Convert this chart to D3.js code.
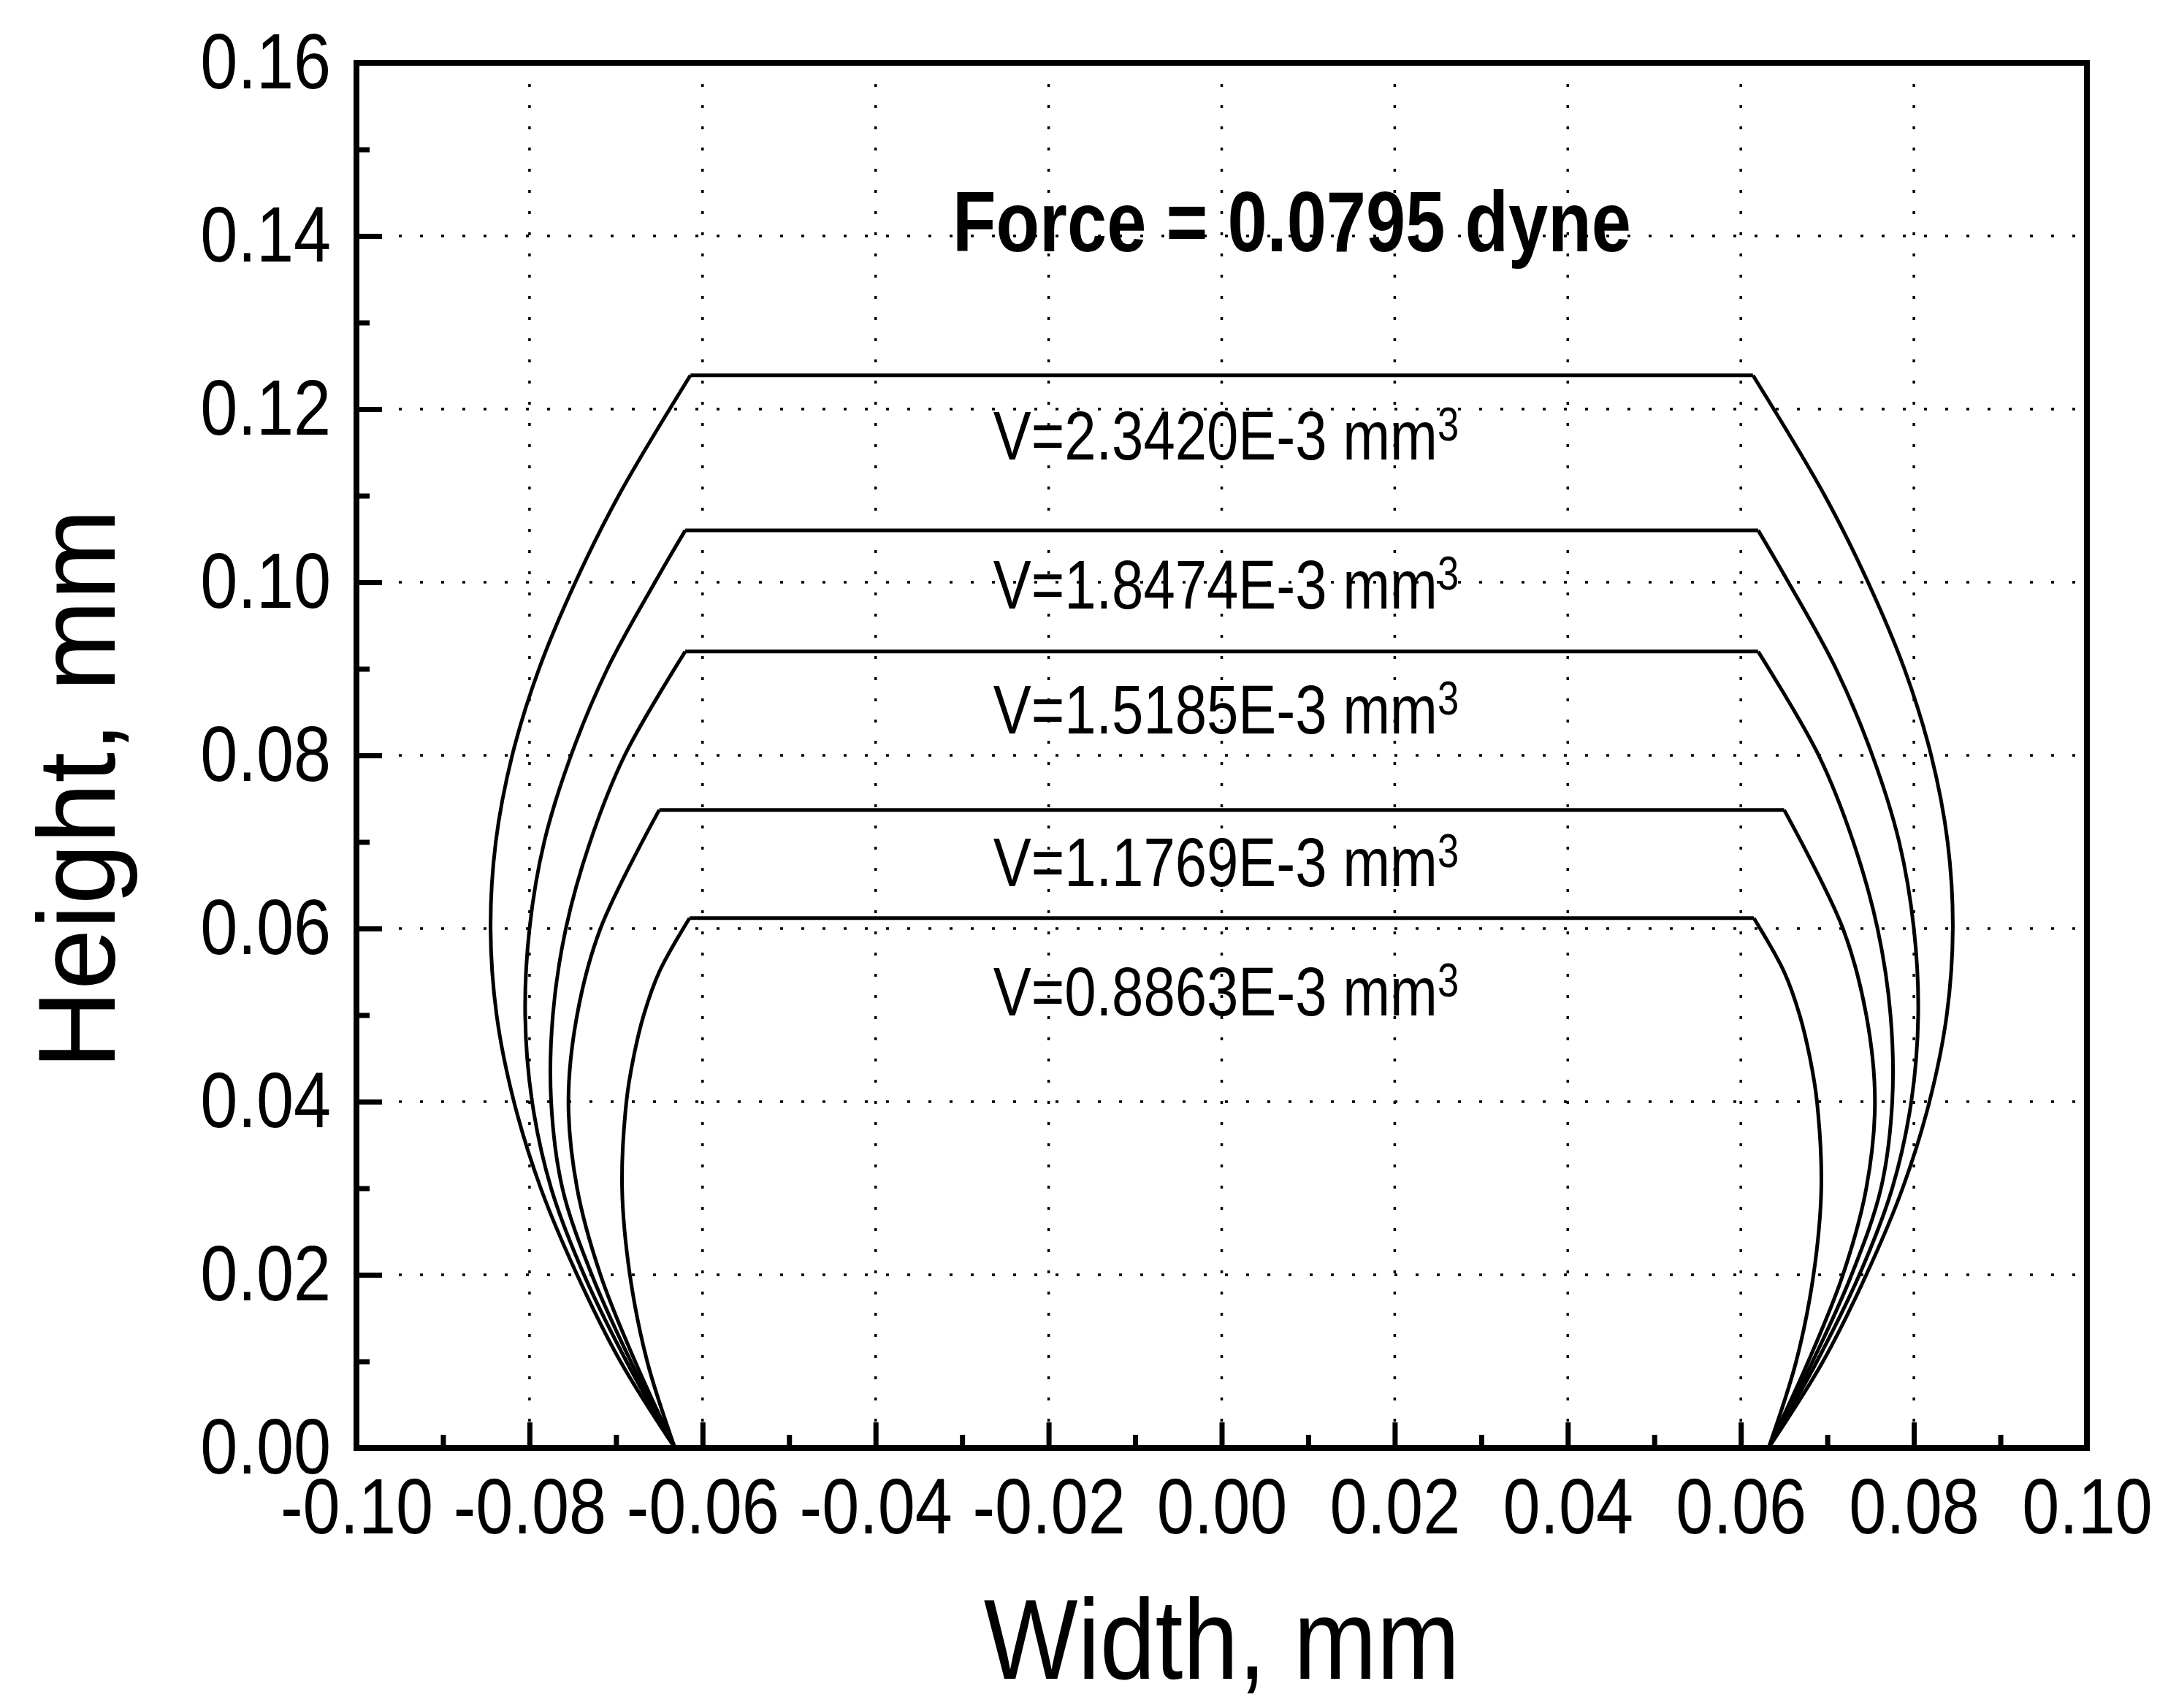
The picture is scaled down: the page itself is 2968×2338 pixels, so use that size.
<!DOCTYPE html>
<html>
<head>
<meta charset="utf-8">
<script src="https://cdn.jsdelivr.net/npm/d3@7"></script>
<style>
  body { margin: 0; background: #fff; }
  svg { display: block; }
  text { font-family: "Liberation Sans", Arial, sans-serif; fill: #000; }
</style>
</head>
<body>
<div id="chart"></div>
<script>
// ticks
const xTicks = [-0.10, -0.08, -0.06, -0.04, -0.02, 0.00, 0.02, 0.04, 0.06, 0.08, 0.10];
const xTickLabels = ["-0.10", "-0.08", "-0.06", "-0.04", "-0.02", "0.00", "0.02", "0.04", "0.06", "0.08", "0.10"];
const xMinorTicks = [-0.09, -0.07, -0.05, -0.03, -0.01, 0.01, 0.03, 0.05, 0.07, 0.09];
const yTicks = [0.00, 0.02, 0.04, 0.06, 0.08, 0.10, 0.12, 0.14, 0.16];
const yTickLabels = ["0.00", "0.02", "0.04", "0.06", "0.08", "0.10", "0.12", "0.14", "0.16"];
const yMinorTicks = [0.01, 0.03, 0.05, 0.07, 0.09, 0.11, 0.13, 0.15];

// volume labels, drawn centred under each top
const volumeLabels = ["V=2.3420E-3 mm", "V=1.8474E-3 mm", "V=1.5185E-3 mm", "V=1.1769E-3 mm", "V=0.8863E-3 mm"];
const labelHeights = [0.1142, 0.0970, 0.0825, 0.0649, 0.0500];

// meniscus profiles: [height, half width], read from the left/right sides
const profileA = [[0, 0.0632], [0.01, 0.0695], [0.02, 0.0745], [0.03, 0.0787], [0.04, 0.0818], [0.05, 0.0838],
  [0.06, 0.0845], [0.07, 0.0839], [0.08, 0.0820], [0.09, 0.0789], [0.10, 0.0747], [0.11, 0.0697], [0.1239, 0.0614]];
const profileB = [[0, 0.0632], [0.01, 0.0688], [0.02, 0.0737], [0.03, 0.0775], [0.04, 0.0797], [0.05, 0.0805],
  [0.06, 0.0800], [0.07, 0.0783], [0.08, 0.0752], [0.09, 0.0710], [0.10, 0.0655], [0.106, 0.0620]];
const profileC = [[0, 0.0632], [0.01, 0.0683], [0.02, 0.0728], [0.03, 0.0762], [0.04, 0.0775], [0.05, 0.0773],
  [0.06, 0.0758], [0.07, 0.0730], [0.08, 0.0690], [0.092, 0.0620]];
const profileD = [[0, 0.0632], [0.01, 0.0678], [0.02, 0.0718], [0.03, 0.0745], [0.04, 0.0755], [0.05, 0.0745],
  [0.06, 0.0718], [0.0737, 0.0650]];
const profileE = [[0, 0.0632], [0.01, 0.0664], [0.02, 0.0684], [0.03, 0.0693], [0.04, 0.0688], [0.045, 0.0680],
  [0.05, 0.0668], [0.055, 0.0650], [0.0612, 0.0615]];
const profiles = [profileA, profileB, profileC, profileD, profileE];

const width = 2968, height = 2338;
const margin = { left: 488, right: 2968 - 2857, top: 86, bottom: 2338 - 1982 };
const plotW = width - margin.left - margin.right;
const plotH = height - margin.top - margin.bottom;
const squeeze = 0.85;

const svg = d3.select('#chart').append('svg')
  .attr('width', width)
  .attr('height', height)
  .style('background', '#FFFFFF');

const x = d3.scaleLinear().domain([-0.10, 0.10]).range([0, plotW]);
const y = d3.scaleLinear().domain([0, 0.16]).range([plotH, 0]);

const g = svg.append('g').attr('transform', `translate(${margin.left}, ${margin.top})`);

// dotted grid
g.append('g').selectAll('line')
  .data(xTicks.slice(1, -1)).enter().append('line')
  .attr('x1', d => x(d)).attr('x2', d => x(d))
  .attr('y1', 0).attr('y2', plotH)
  .attr('stroke', '#000').attr('stroke-width', 3.5).attr('stroke-dasharray', '4 25');
g.append('g').selectAll('line')
  .data(yTicks.slice(1, -1)).enter().append('line')
  .attr('y1', d => y(d)).attr('y2', d => y(d))
  .attr('x1', 0).attr('x2', plotW)
  .attr('stroke', '#000').attr('stroke-width', 3.5).attr('stroke-dasharray', '4 25');

// axes
const xAxis = g.append('g')
  .attr('transform', `translate(0, ${plotH})`)
  .call(d3.axisBottom(x).tickValues(xTicks).tickFormat((d, i) => xTickLabels[i])
    .tickSizeInner(-35).tickSizeOuter(0).tickPadding(40));
g.append('g')
  .attr('transform', `translate(0, ${plotH})`)
  .call(d3.axisBottom(x).tickValues(xMinorTicks).tickFormat('').tickSizeInner(-18).tickSizeOuter(0));

const yAxis = g.append('g')
  .call(d3.axisLeft(y).tickValues(yTicks).tickFormat((d, i) => yTickLabels[i])
    .tickSizeInner(-35).tickSizeOuter(0).tickPadding(35));
g.append('g')
  .call(d3.axisLeft(y).tickValues(yMinorTicks).tickFormat('').tickSizeInner(-18).tickSizeOuter(0));

g.selectAll('.domain').remove();
g.selectAll('.tick line').attr('stroke', '#000').attr('stroke-width', 7);

xAxis.selectAll('text')
  .attr('font-size', 108)
  .attr('transform', `scale(${squeeze},1)`);
yAxis.selectAll('text')
  .attr('font-size', 108)
  .attr('x', -35 / squeeze)
  .attr('transform', `scale(${squeeze},1)`);

// frame
g.append('rect')
  .attr('x', 0).attr('y', 0)
  .attr('width', plotW).attr('height', plotH)
  .attr('fill', 'none').attr('stroke', '#000').attr('stroke-width', 8);

// curves
const side = d3.line().curve(d3.curveCatmullRom.alpha(0.5));
profiles.forEach(p => {
  const top = p[p.length - 1];
  g.append('path')
    .attr('d', side(p.map(([h, w]) => [x(-w), y(h)])))
    .attr('fill', 'none').attr('stroke', '#000').attr('stroke-width', 5);
  g.append('path')
    .attr('d', side(p.map(([h, w]) => [x(w), y(h)])))
    .attr('fill', 'none').attr('stroke', '#000').attr('stroke-width', 5);
  g.append('line')
    .attr('x1', x(-top[1])).attr('x2', x(top[1]))
    .attr('y1', y(top[0])).attr('y2', y(top[0]))
    .attr('stroke', '#000').attr('stroke-width', 5);
});

// volume labels
volumeLabels.forEach((label, i) => {
  const t = g.append('text')
    .attr('transform', `translate(${x(0.0005)}, ${y(labelHeights[i])}) scale(0.82,1)`)
    .attr('text-anchor', 'middle')
    .attr('font-size', 95);
  t.append('tspan').text(label);
  t.append('tspan').attr('font-size', 64).attr('dy', -26).text('3');
});

// title
g.append('text')
  .attr('transform', `translate(${x(0.0081)}, ${y(0.1382)}) scale(0.84,1)`)
  .attr('text-anchor', 'middle')
  .attr('font-size', 116)
  .attr('font-weight', 'bold')
  .text('Force = 0.0795 dyne');

// axis titles
svg.append('text')
  .attr('transform', `translate(${margin.left + plotW / 2}, 2298) scale(0.88,1)`)
  .attr('text-anchor', 'middle')
  .attr('font-size', 155)
  .text('Width, mm');

svg.append('text')
  .attr('transform', `translate(157, 1080) rotate(-90)`)
  .attr('text-anchor', 'middle')
  .attr('font-size', 150)
  .text('Height, mm');
</script>
</body>
</html>
